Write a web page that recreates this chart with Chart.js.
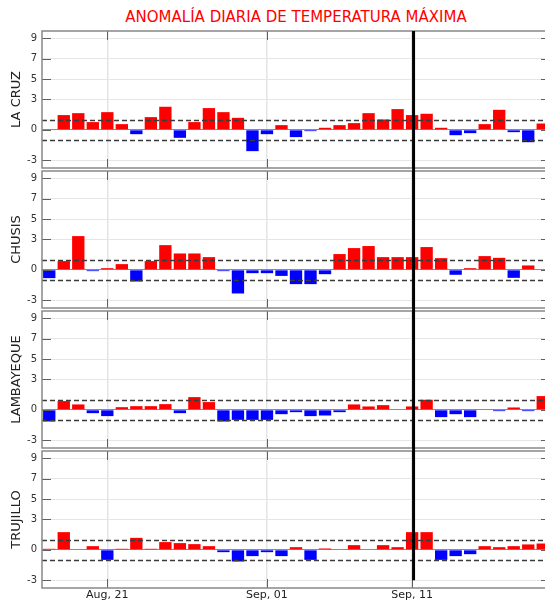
<!DOCTYPE html>
<html>
<head>
<meta charset="utf-8">
<script src="https://cdn.jsdelivr.net/npm/chart.js@4.4.1/dist/chart.umd.min.js"></script>
<style>
    body { margin: 0; background: #fff; }
    #wrap { position: relative; width: 545px; height: 602px; overflow: hidden; background: #fff; }
    #title { position: absolute; left: 42px; width: 508px; top: 8px; text-align: center;
             font: 15px "DejaVu Sans", sans-serif; color: #ff0000; line-height: 18px; white-space: nowrap; }
    canvas { position: absolute; left: 0; }
</style>
</head>
<body>
<div id="wrap">
    <div id="title">ANOMALÍA DIARIA DE TEMPERATURA MÁXIMA</div>
    <canvas id="panel0" width="551" height="140" style="top:29px"></canvas>
    <canvas id="panel1" width="551" height="140" style="top:169px"></canvas>
    <canvas id="panel2" width="551" height="140" style="top:309px"></canvas>
    <canvas id="panel3" width="551" height="153" style="top:449px"></canvas>
</div>
<script>
// Days shown on the x axis (one bar per day)
const days = [
    'Aug, 17', 'Aug, 18', 'Aug, 19', 'Aug, 20', 'Aug, 21', 'Aug, 22', 'Aug, 23', 'Aug, 24',
    'Aug, 25', 'Aug, 26', 'Aug, 27', 'Aug, 28', 'Aug, 29', 'Aug, 30', 'Aug, 31',
    'Sep, 01', 'Sep, 02', 'Sep, 03', 'Sep, 04', 'Sep, 05', 'Sep, 06', 'Sep, 07', 'Sep, 08',
    'Sep, 09', 'Sep, 10', 'Sep, 11', 'Sep, 12', 'Sep, 13', 'Sep, 14', 'Sep, 15', 'Sep, 16',
    'Sep, 17', 'Sep, 18', 'Sep, 19', 'Sep, 20'
];
const labelledDays = ['Aug, 21', 'Sep, 01', 'Sep, 11'];
const yTicks = [-3, 0, 3, 5, 7, 9];
const thresholds = [1, -1];
const markerDay = 'Sep, 11';
const markerShift = 0.1; // in days

const stations = ['LA CRUZ', 'CHUSIS', 'LAMBAYEQUE', 'TRUJILLO'];

// anomalies (°C)
const laCruz = [0.05, 1.45, 1.64, 0.76, 1.74, 0.56, -0.43, 1.25, 2.27, -0.79, 0.76, 2.14, 1.74, 1.18,
    -2.1, -0.43, 0.46, -0.72, -0.13, 0.2, 0.46, 0.66, 1.64, 1.02, 2.04, 1.45, 1.58, 0.2,
    -0.53, -0.33, 0.56, 1.97, -0.23, -1.22, 0.62];
const chusis = [-0.82, 0.86, 3.32, -0.13, 0.16, 0.56, -1.15, 0.86, 2.43, 1.61, 1.61, 1.25, -0.13, -2.33,
    -0.33, -0.33, -0.6, -1.41, -1.41, -0.43, 1.55, 2.14, 2.34, 1.25, 1.25, 1.25, 2.24, 1.15,
    -0.49, 0.16, 1.35, 1.18, -0.79, 0.43, 0];
const lambayeque = [-1.15, 0.86, 0.53, -0.33, -0.62, 0.26, 0.36, 0.36, 0.56, -0.33, 1.25, 0.76, -1.15, -0.99,
    -0.99, -0.99, -0.43, -0.23, -0.62, -0.56, -0.23, 0.53, 0.33, 0.46, 0, 0.33, 0.99, -0.72,
    -0.43, -0.72, 0.05, -0.13, 0.23, -0.13, 1.35];
const trujillo = [0.1, 1.74, 0.05, 0.36, -0.99, 0.1, 1.18, 0.1, 0.76, 0.66, 0.56, 0.36, -0.23, -1.15,
    -0.62, -0.23, -0.62, 0.26, -0.99, 0.13, 0.05, 0.46, 0.05, 0.46, 0.26, 1.74, 1.74, -0.99,
    -0.62, -0.43, 0.36, 0.26, 0.36, 0.53, 0.62];

const series = [laCruz, chusis, lambayeque, trujillo];
const FONT = 'DejaVu Sans';

function makePanel(i) {
    const values = series[i];
    const isFirst = i === 0;
    const isLast = i === series.length - 1;

    // frame, inner ticks, dashed limits and the day marker
    const decor = {
        id: 'decor' + i,
        afterDatasetsDraw(chart) {
            const ctx = chart.ctx;
            const { left, right, top, bottom } = chart.chartArea;
            const xs = chart.scales.x, ys = chart.scales.y;
            ctx.save();

            ctx.strokeStyle = '#3a3a3a';
            ctx.lineWidth = 1.3;
            ctx.setLineDash([5, 3]);
            thresholds.forEach(t => {
                const py = Math.round(ys.getPixelForValue(t)) + 0.5;
                ctx.beginPath();
                ctx.moveTo(left, py);
                ctx.lineTo(right, py);
                ctx.stroke();
            });
            ctx.setLineDash([]);

            ctx.strokeStyle = '#606060';
            ctx.lineWidth = 1;
            yTicks.forEach(v => {
                const py = Math.round(ys.getPixelForValue(v)) + 0.5;
                ctx.beginPath();
                ctx.moveTo(left, py); ctx.lineTo(left + 9, py);
                ctx.moveTo(right - 9, py); ctx.lineTo(right, py);
                ctx.stroke();
            });
            labelledDays.forEach(d => {
                const px = Math.round(xs.getPixelForValue(days.indexOf(d))) + 0.5;
                ctx.beginPath();
                ctx.moveTo(px, top); ctx.lineTo(px, top + 9);
                ctx.moveTo(px, bottom - 9); ctx.lineTo(px, bottom);
                ctx.stroke();
            });

            ctx.strokeStyle = '#888888';
            ctx.lineWidth = 1.5;
            ctx.strokeRect(left, top, right - left, bottom - top);

            const idx = days.indexOf(markerDay);
            const step = xs.getPixelForValue(1) - xs.getPixelForValue(0);
            const mx = xs.getPixelForValue(idx) + markerShift * step;
            ctx.strokeStyle = '#000';
            ctx.lineWidth = 3;
            ctx.beginPath();
            ctx.moveTo(mx, isFirst ? top : 0);
            ctx.lineTo(mx, isLast ? ys.getPixelForValue(-3) : chart.height);
            ctx.stroke();
            ctx.restore();
        }
    };

    new Chart(document.getElementById('panel' + i), {
        type: 'bar',
        data: {
            labels: days,
            datasets: [{
                data: values,
                backgroundColor: values.map(v => v >= 0 ? '#ff0000' : '#0000ff'),
                borderWidth: 0,
                barPercentage: 0.85,
                categoryPercentage: 1
            }]
        },
        options: {
            responsive: false,
            animation: false,
            events: [],
            layout: { padding: { top: 2, bottom: isLast ? 0 : 1, left: 0, right: 1 } },
            plugins: { legend: { display: false }, tooltip: { enabled: false } },
            scales: {
                x: {
                    type: 'category',
                    offset: true,
                    border: { display: false },
                    grid: {
                        offset: false,
                        drawTicks: false,
                        lineWidth: 1.5,
                        color: c => labelledDays.includes(days[c.index]) ? '#e4e4e4' : 'rgba(0,0,0,0)'
                    },
                    ticks: {
                        display: isLast,
                        autoSkip: false,
                        maxRotation: 0,
                        padding: 1,
                        color: '#222',
                        font: { family: FONT, size: 11 },
                        callback: (v, idx) => labelledDays.includes(days[idx]) ? days[idx] : ''
                    },
                    afterFit: s => { s.height = isLast ? 14 : 0; s.paddingLeft = 0; s.paddingRight = 0; }
                },
                y: {
                    min: -3.76,
                    max: 9.73,
                    border: { display: false },
                    afterBuildTicks: s => { s.ticks = yTicks.map(v => ({ value: v })); },
                    grid: {
                        drawTicks: false,
                        lineWidth: 1,
                        color: c => c.tick.value === 0 ? '#8c8c8c' : '#e6e6e6'
                    },
                    ticks: {
                        padding: 5,
                        color: '#333',
                        font: { family: FONT, size: 10 },
                        callback: v => v
                    },
                    title: {
                        display: true,
                        text: stations[i],
                        color: '#222',
                        font: { family: FONT, size: 13 },
                        padding: { top: 9, bottom: 0 }
                    },
                    afterFit: s => { s.width = 42; s.paddingTop = 0; s.paddingBottom = 0; }
                }
            }
        },
        plugins: [decor]
    });
}

document.addEventListener('DOMContentLoaded', function() {
    series.forEach((s, i) => makePanel(i));
});
</script>
</body>
</html>
